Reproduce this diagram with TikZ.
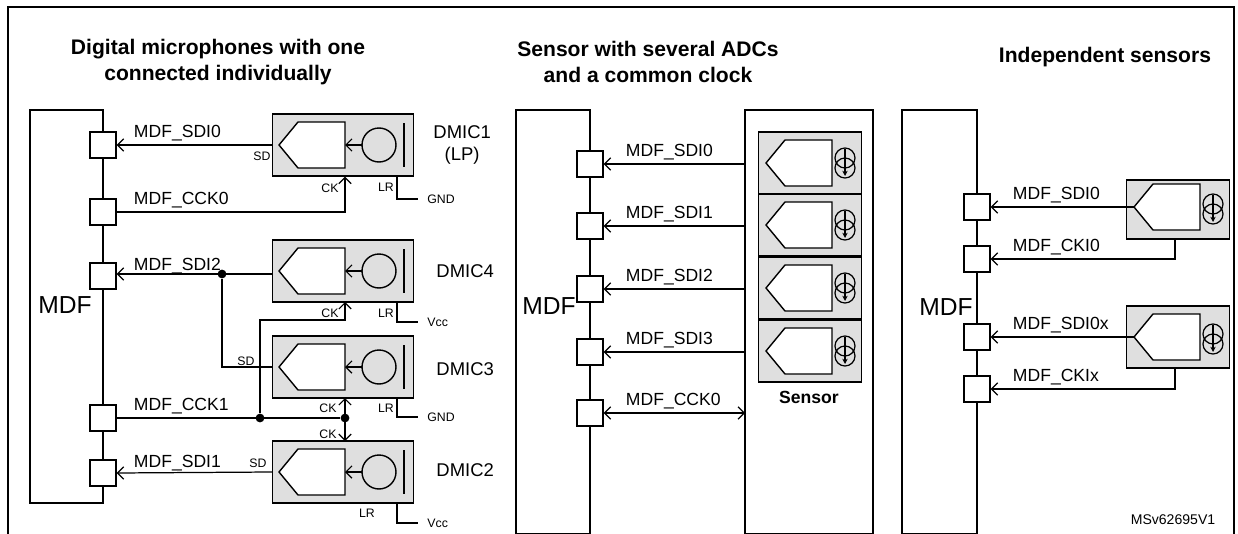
\documentclass[tikz,border=0pt]{standalone}
\usepackage{fontspec}
\setmainfont{Liberation Sans}
\usetikzlibrary{arrows.meta,positioning}

\tikzset{
  every path/.style={line width=0.7pt},
  >={Straight Barb[length=3.5pt,width=7pt]},
  pin/.style={draw,fill=white,minimum size=0.52cm,inner sep=0pt},
  chip/.style={draw,thick,fill=gray!25,minimum width=2.82cm,minimum height=1.24cm,inner sep=0pt},
  cell/.style={draw,thick,fill=gray!25,minimum width=2.06cm,minimum height=1.24cm,inner sep=0pt},
  sig/.style={font=\fontsize{10}{12}\selectfont,inner sep=1pt,anchor=south west},
  tiny/.style={font=\fontsize{7}{8}\selectfont,inner sep=1pt},
  dev/.style={font=\fontsize{10.5}{12}\selectfont,right},
  ttl/.style={font=\bfseries\fontsize{12}{14.5}\selectfont,align=center},
  dot/.style={circle,fill,inner sep=0pt,minimum size=5pt}
}
% pentagon-shaped ADC, microphone and current source
\newcommand{\adc}[2]{\draw[thick,fill=white] (#1,#2) -- (#1+19,#2-23) -- (#1+66,#2-23) -- (#1+66,#2+23) -- (#1+19,#2+23) -- cycle;}
\newcommand{\micro}[2]{\draw[thick] (#1+100,#2) circle[radius=0.34cm];
  \draw[line width=1.4pt] (#1+125,#2-22) -- (#1+125,#2+22);
  \draw[->] (#1+83,#2) -- (#1+66,#2);}
\newcommand{\isrc}[2]{\draw (#1,#2-5) circle[radius=0.2cm] (#1,#2+5) circle[radius=0.2cm];
  \draw[-{Stealth[length=3pt,width=3pt]}] (#1,#2-14) -- (#1,#2+13);}

\begin{document}
\begin{tikzpicture}[x=0.02cm,y=-0.02cm]
\useasboundingbox (0,0) rectangle (1238,534);
% frame
\draw[line width=1.5pt] (8,534) -- (8,7) -- (1234,7) -- (1234,534);

% ---------- left: digital microphones ----------
\node[ttl] (t1) at (218,62) {Digital microphones with one\\connected individually};
\draw (30,110) rectangle (103,503);
\node[font=\fontsize{14}{16}\selectfont] (mdfa) at (65,305) {MDF};
\node[pin] (pa1) at (103,145) {};
\node[pin] (pa2) at (103,212) {};
\node[pin] (pa3) at (103,276) {};
\node[pin] (pa4) at (103,418) {};
\node[pin] (pa5) at (103,473) {};
% microphones
\node[chip] (d1) at (343,145) {};
\node[chip] (d4) at (343,271) {};
\node[chip] (d3) at (343,367) {};
\node[chip] (d2) at (343,472) {};
\foreach \y in {145,271,367,472}{\adc{279}{\y}\micro{279}{\y}}
\node[dev,align=center] (n1) at (427,145) {DMIC1\\(LP)};
\node[dev] (n4) at (430,271) {DMIC4};
\node[dev] (n3) at (430,369) {DMIC3};
\node[dev] (n2) at (430,470) {DMIC2};
% DMIC1
\draw[->] (d1.west) -- (pa1.east);
\node[sig,above right=1pt and 0.3cm of pa1.east] (l1) {MDF\_SDI0};
\node[tiny] (sd1) at (262,156) {SD};
\coordinate (c1) at (345,212);
\draw[->] (pa2.east) -- (c1) -- (c1 |- d1.south);
\node[sig,above right=1pt and 0.3cm of pa2.east] (l2) {MDF\_CCK0};
\node[tiny] (ck1) at (330,188) {CK};
\draw (397,176) |- (418,199) node[tiny,right=4pt] {GND};
\node[tiny] (lr1) at (386,187) {LR};
% DMIC4 / DMIC3 shared data line
\draw[->] (d4.west |- 0,274) -- (pa3.east |- 0,274);
\node[sig,above right=0pt and 0.3cm of pa3.east] (l3) {MDF\_SDI2};
\node[dot] (j1) at (222,274) {};
\draw (j1) |- (d3.west);
\node[tiny] (sd3) at (246,361) {SD};
\draw (397,302) |- (418,322) node[tiny,right=4pt] {Vcc};
\node[tiny] (lr4) at (386,313) {LR};
\draw (397,398) |- (418,417) node[tiny,right=4pt] {GND};
\node[tiny] (lr3) at (386,408) {LR};
% shared clock
\node[dot] (j2) at (260,418) {};
\node[dot] (j3) at (345,418) {};
\draw (pa4.east) -- (j3);
\node[sig,above right=1pt and 0.3cm of pa4.east] (l4) {MDF\_CCK1};
\draw[->] (j2) |- (345,320) -- (345,302);
\node[tiny] (ck4) at (330,313) {CK};
\draw[<->] (345,398) -- (345,441);
\node[tiny] (ck3) at (328,408) {CK};
\node[tiny] (ck2) at (328,434) {CK};
% DMIC2
\draw[->] (d2.west) -- (pa5.east);
\node[sig,above right=0pt and 0.3cm of pa5.east] (l5) {MDF\_SDI1};
\node[tiny] (sd2) at (258,463) {SD};
\draw (397,503) |- (418,523) node[tiny,right=4pt] {Vcc};
\node[tiny] (lr2) at (367,513) {LR};

% ---------- middle: sensor with several ADCs ----------
\node[ttl] (t2) at (648,62) {Sensor with several ADCs\\and a common clock};
\draw (516,110) rectangle (590,534);
\node[font=\fontsize{14}{16}\selectfont] (mdfb) at (549,306) {MDF};
\draw (745,110) rectangle (873,534);
\foreach \y/\n/\l in {164/0/SDI0,226/1/SDI1,289/2/SDI2,352/3/SDI3}{
  \node[pin] (pb\n) at (590,\y) {};
  \node[cell] (s\n) at (810,\y-1) {};
  \adc{766}{\y-1}
  \isrc{845}{\y-1}
  \draw[->] (745,\y) -- (pb\n.east);
  \node[sig,above right=1pt and 0.4cm of pb\n.east] {MDF\_\l};
}
\node[pin] (pb4) at (590,413) {};
\draw[<->] (pb4.east) -- (745,413);
\node[sig,above right=1pt and 0.4cm of pb4.east] (l6) {MDF\_CCK0};
\node[font=\bfseries\fontsize{10}{12}\selectfont] (sens) at (809,397) {Sensor};

% ---------- right: independent sensors ----------
\node[ttl] (t3) at (1105,57) {Independent sensors};
\draw (902,110) rectangle (977,534);
\node[font=\fontsize{14}{16}\selectfont] (mdfc) at (946,307) {MDF};
\node[pin] (pc1) at (977,207) {};
\node[pin] (pc2) at (977,259) {};
\node[pin] (pc3) at (977,337) {};
\node[pin] (pc4) at (977,389) {};
\node[cell,minimum height=1.18cm] (r1) at (1178,209.5) {};
\node[cell] (r2) at (1178,337) {};
\adc{1134}{207}\isrc{1213}{209}
\adc{1134}{337}\isrc{1213}{339}
\draw[->] (1134,207) -- (pc1.east);
\draw[->] (r1.south -| 1175,0) |- (pc2.east);
\draw[->] (1134,337) -- (pc3.east);
\draw[->] (r2.south -| 1175,0) |- (pc4.east);
\node[sig,above right=1pt and 0.4cm of pc1.east] (m1) {MDF\_SDI0};
\node[sig,above right=1pt and 0.4cm of pc2.east] (m2) {MDF\_CKI0};
\node[sig,above right=1pt and 0.4cm of pc3.east] (m3) {MDF\_SDI0x};
\node[sig,above right=1pt and 0.4cm of pc4.east] (m4) {MDF\_CKIx};

\node[font=\fontsize{8}{10}\selectfont] (ref) at (1173,520) {MSv62695V1};
\end{tikzpicture}
\end{document}
